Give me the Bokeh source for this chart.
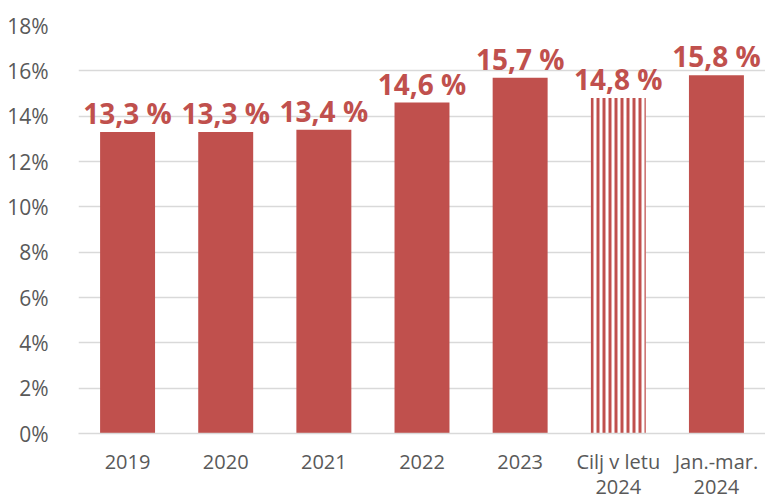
from bokeh.plotting import figure
from bokeh.models import ColumnDataSource, FixedTicker, Range1d
from bokeh.core.properties import value
from bokeh.embed import file_html
from bokeh.resources import INLINE

categories = ["2019", "2020", "2021", "2022", "2023", "Cilj v letu\n2024", "Jan.-mar.\n2024"]
values = [13.3, 13.3, 13.4, 14.6, 15.7, 14.8, 15.8]
value_labels = ["13,3 %", "13,3 %", "13,4 %", "14,6 %", "15,7 %", "14,8 %", "15,8 %"]
target_index = 5
y_ticks = [0, 2, 4, 6, 8, 10, 12, 14, 16, 18]
y_tick_labels = ["0%", "2%", "4%", "6%", "8%", "10%", "12%", "14%", "16%", "18%"]

RED = "#C0504D"
GRAY_TXT = "#595959"
GRID = "#D9D9D9"
FONT = "Open Sans"

xs = list(range(len(categories)))
actual = [i for i in xs if i != target_index]

src_actual = ColumnDataSource(dict(x=[xs[i] for i in actual], top=[values[i] for i in actual]))
src_target = ColumnDataSource(dict(x=[xs[target_index]], top=[values[target_index]]))
src_labels = ColumnDataSource(dict(x=xs, y=values, text=value_labels))

p = figure(frame_width=687, frame_height=408, output_backend="svg", toolbar_location=None,
           x_range=Range1d(-0.5, 6.5), y_range=Range1d(0, 18),
           min_border_left=78, min_border_right=0, min_border_top=25, min_border_bottom=40)
p.outline_line_color = None
p.background_fill_color = "white"
p.border_fill_color = "white"

p.vbar(x="x", top="top", width=0.56, source=src_actual, fill_color=RED, line_color=None)
p.vbar(x="x", top="top", width=0.56, source=src_target, fill_color="white", line_color=None,
       hatch_pattern="vertical_line", hatch_color=RED, hatch_scale=6, hatch_weight=3)

p.text(x="x", y="y", text="text", source=src_labels, text_align="center",
       text_baseline="alphabetic", y_offset=-19, text_color=RED,
       text_font=value(FONT), text_font_style="bold", text_font_size="28px")

p.xgrid.grid_line_color = None
p.ygrid.grid_line_color = GRID
p.ygrid.grid_line_width = 1.5
p.ygrid.ticker = FixedTicker(ticks=y_ticks)

p.yaxis.ticker = FixedTicker(ticks=y_ticks)
p.yaxis.major_label_overrides = {t: l for t, l in zip(y_ticks, y_tick_labels)}
p.yaxis.axis_line_color = None
p.yaxis.major_tick_line_color = None
p.yaxis.minor_tick_line_color = None
p.yaxis.major_label_standoff = 24
p.yaxis.major_label_text_font = FONT
p.yaxis.major_label_text_font_size = "21px"
p.yaxis.major_label_text_color = GRAY_TXT

p.xaxis.ticker = FixedTicker(ticks=xs)
p.xaxis.major_label_overrides = {x: c for x, c in zip(xs, categories)}
p.xaxis.axis_line_color = GRID
p.xaxis.axis_line_width = 1.5
p.xaxis.major_tick_line_color = None
p.xaxis.minor_tick_line_color = None
p.xaxis.major_label_standoff = 8
p.xaxis.major_label_text_font = FONT
p.xaxis.major_label_text_font_size = "20px"
p.xaxis.major_label_text_line_height = 0.93
p.xaxis.major_label_text_color = GRAY_TXT

open("out.html", "w").write(file_html(p, INLINE))
